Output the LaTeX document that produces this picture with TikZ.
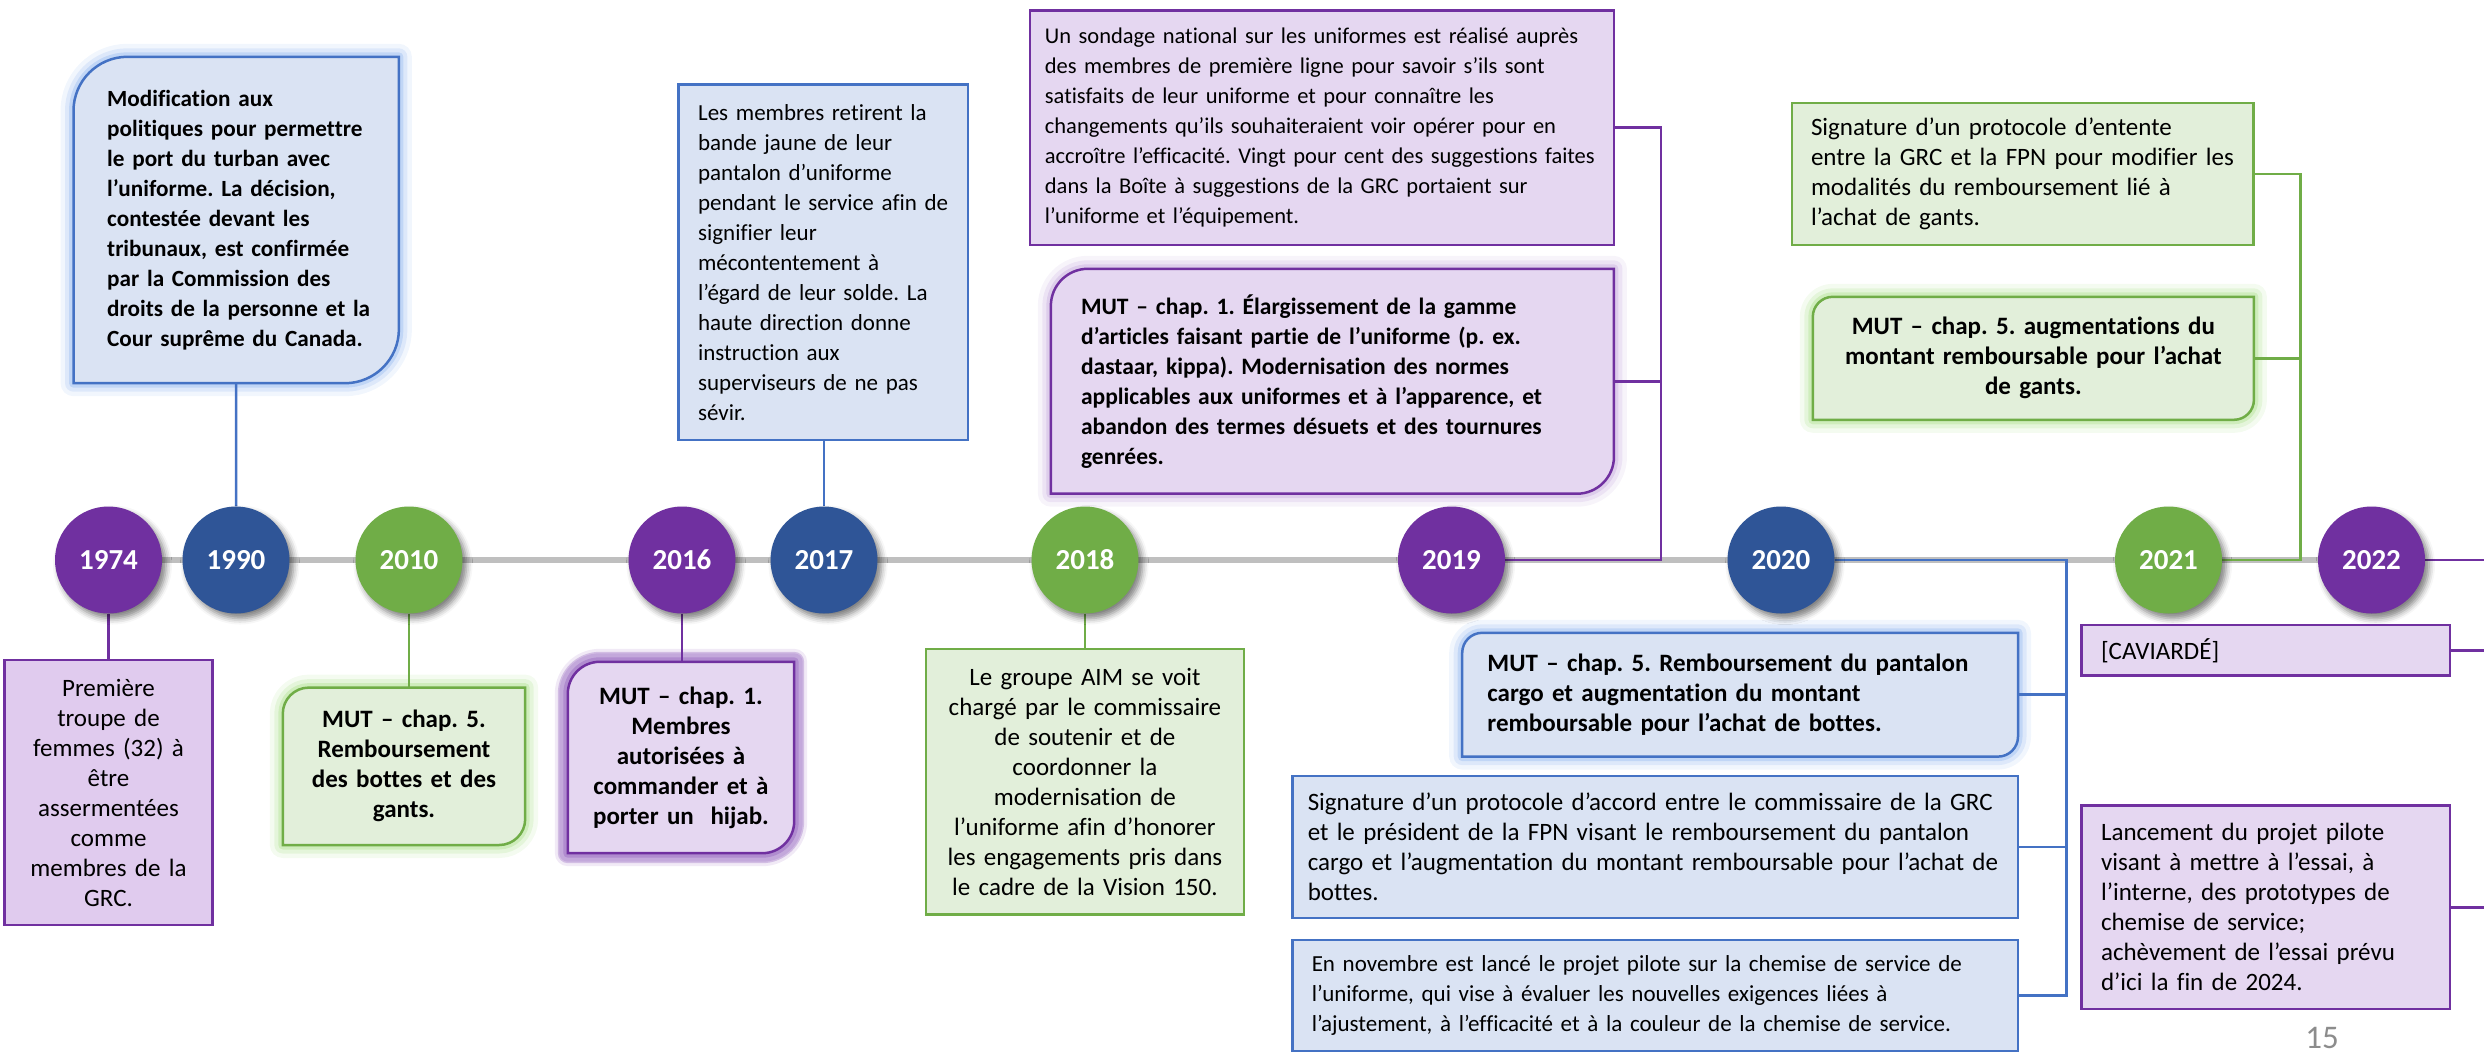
\documentclass[tikz,border=0pt]{standalone}
\usepackage{fontspec}
\setmainfont{Carlito}[Ligatures={TeX,NoCommon}]
\frenchspacing
\usetikzlibrary{calc,backgrounds,shadows.blur}
\definecolor{cPurple}{HTML}{7030A0}
\definecolor{cBlue}{HTML}{2F5597}
\definecolor{cGreen}{HTML}{70AD47}
\definecolor{lBlue}{HTML}{4472C4}
\definecolor{fBlue}{HTML}{DAE3F3}
\definecolor{fPurple}{HTML}{E5D7F1}
\definecolor{fPurpleDark}{HTML}{E0CBEE}
\definecolor{fGreen}{HTML}{E2EFDA}
\definecolor{gBlue}{HTML}{8DB3EE}
\definecolor{gPurple}{HTML}{8A55B8}
\definecolor{gPurpleLight}{HTML}{C0A2DA}
\definecolor{gGreen}{HTML}{A6DE84}
\definecolor{cGray}{HTML}{BFBFBF}
\definecolor{cNum}{HTML}{8C8C8C}
\newcommand\mutframe[3]{\path[#2] (#1.south west) -- ($(#1.north west)+(0pt,-#3)$) arc[start angle=180,end angle=90,radius=#3] -- (#1.north east) -- ($(#1.south east)+(0pt,#3)$) arc[start angle=0,end angle=-90,radius=#3] -- cycle;}
\begin{document}
\begin{tikzpicture}[x=1pt,y=-1pt,
  year/.style={circle, minimum size=107pt, inner sep=0pt, text=white, font=\fontsize{29}{34}\selectfont\bfseries, blur shadow={shadow xshift=4pt, shadow yshift=-5pt, shadow blur radius=6pt, shadow opacity=50}},
  note/.style={inner sep=0pt, line width=2.5pt, font=\fontsize{25}{30}\selectfont},
  noteB/.style={note, draw=lBlue, fill=fBlue},
  noteP/.style={note, draw=cPurple, fill=fPurple},
  noteG/.style={note, draw=cGreen, fill=fGreen},
  mut/.style={inner sep=0pt, font=\fontsize{25}{30}\selectfont\bfseries},
  link/.style={line width=2.5pt},
  frame/.style={line width=2.5pt, draw=#1},
  glow/.style={preaction={draw=#1, line width=26pt, opacity=.12, line join=round}, preaction={draw=#1, line width=17pt, opacity=.2, line join=round}, preaction={draw=#1, line width=9pt, opacity=.35, line join=round}},
  strongglow/.style={glow=#1, preaction={draw=#1, line width=20pt, opacity=.3, line join=round}}]
\useasboundingbox (0,0) rectangle (2484,1053);

\node[year, fill=cPurple] (y1974) at (108.5,560) {1974};
\node[year, fill=cBlue] (y1990) at (236,560) {1990};
\node[year, fill=cGreen] (y2010) at (409,560) {2010};
\node[year, fill=cPurple] (y2016) at (682,560) {2016};
\node[year, fill=cBlue] (y2017) at (824,560) {2017};
\node[year, fill=cGreen] (y2018) at (1085,560) {2018};
\node[year, fill=cPurple] (y2019) at (1451.5,560) {2019};
\node[year, fill=cBlue] (y2020) at (1781,560) {2020};
\node[year, fill=cGreen] (y2021) at (2168.5,560) {2021};
\node[year, fill=cPurple] (y2022) at (2371.5,560) {2022};

\node[noteP, fill=fPurpleDark, align=center, minimum width=208pt, minimum height=265pt, text width=188pt] (b1974) at (108.5,792.5) {Première\\troupe de\\femmes (32) à\\être\\assermentées\\comme\\membres de la\\GRC.};
\node[mut, font=\fontsize{23.2}{30}\selectfont\bfseries, align=left, minimum width=325pt, minimum height=326pt, text width=258pt] (b1990) at (236.2,220) {Modification aux\\politiques pour permettre\\le port du turban avec\\l’uniforme. La décision,\\contestée devant les\\tribunaux, est confirmée\\par la Commission des\\\mbox{droits de la personne et la}\\Cour suprême du Canada.};
\node[mut, align=center, minimum width=242pt, minimum height=157pt, text width=222pt] (b2010) at (404,766.3) {MUT – chap. 5.\\Remboursement\\des bottes et des\\gants.};
\node[mut, align=center, minimum width=226pt, minimum height=191pt, text width=206pt] (b2016) at (681,757.5) {MUT – chap. 1.\\Membres\\autorisées à\\commander et à\\porter un\ \ hijab.};
\node[noteB, font=\fontsize{23}{30}\selectfont, align=left, minimum width=289.4pt, minimum height=355.4pt, text width=250.4pt] (b2017) at (823.3,262.3) {Les membres retirent la\\bande jaune de leur\\pantalon d’uniforme\\pendant le service afin de\\signifier leur\\mécontentement à\\l’égard de leur solde. La\\haute direction donne\\instruction aux\\superviseurs de ne pas\\sévir.};
\node[noteG, align=center, minimum width=318.2pt, minimum height=265.5pt, text width=298pt] (b2018) at (1084.9,781.75) {Le groupe AIM se voit\\chargé par le commissaire\\de soutenir et de\\coordonner la\\modernisation de\\l’uniforme afin d’honorer\\les engagements pris dans\\le cadre de la Vision 150.};
\node[noteP, font=\fontsize{22.5}{30}\selectfont, align=left, minimum width=583.7pt, minimum height=234.2pt, text width=554pt] (b2019a) at (1321.9,127.7) {Un sondage national sur les uniformes est réalisé auprès\\des membres de première ligne pour savoir s’ils sont\\satisfaits de leur uniforme et pour connaître les\\changements qu’ils souhaiteraient voir opérer pour en\\accroître l’efficacité. Vingt pour cent des suggestions faites\\dans la Boîte à suggestions de la GRC portaient sur\\l’uniforme et l’équipement.};
\node[mut, font=\fontsize{23.5}{30}\selectfont\bfseries, align=left, minimum width=562.7pt, minimum height=224.5pt, text width=502.7pt] (b2019b) at (1332.4,381.25) {MUT – chap. 1. Élargissement de la gamme\\d’articles faisant partie de l’uniforme (p. ex.\\dastaar, kippa). Modernisation des normes\\applicables aux uniformes et à l’apparence, et\\abandon des termes désuets et des tournures\\genrées.};
\node[mut, align=left, minimum width=555.4pt, minimum height=123.4pt, text width=505.4pt] (b2020a) at (1740.1,694.7) {MUT – chap. 5. Remboursement du pantalon\\cargo et augmentation du montant\\remboursable pour l’achat de bottes.};
\node[noteB, align=left, minimum width=725.1pt, minimum height=142.2pt, text width=695pt] (b2020b) at (1655.25,846.9) {Signature d’un protocole d’accord entre le commissaire de la GRC\\et le président de la FPN visant le remboursement du pantalon\\cargo et l’augmentation du montant remboursable pour l’achat de\\bottes.};
\node[noteB, font=\fontsize{23}{30}\selectfont, align=left, minimum width=725.1pt, minimum height=111pt, text width=687pt] (b2020c) at (1655.25,995.5) {En novembre est lancé le projet pilote sur la chemise de service de\\l’uniforme, qui vise à évaluer les nouvelles exigences liées à\\l’ajustement, à l’efficacité et à la couleur de la chemise de service.};
\node[noteG, align=left, minimum width=461.7pt, minimum height=142pt, text width=423.7pt] (b2021a) at (2022.85,173.8) {Signature d’un protocole d’entente\\entre la GRC et la FPN pour modifier les\\modalités du remboursement lié à\\l’achat de gants.};
\node[mut, align=center, minimum width=440.7pt, minimum height=122.6pt, text width=420pt] (b2021b) at (2033.35,358.3) {MUT – chap. 5. augmentations du\\montant remboursable pour l’achat\\de gants.};
\node[noteP, align=left, minimum width=368.5pt, minimum height=50.7pt, text width=329.5pt] (b2022a) at (2265.75,650.35) {[CAVIARDÉ]};
\node[noteP, align=left, minimum width=368.5pt, minimum height=203.5pt, text width=329.5pt] (b2022b) at (2265.75,907.25) {Lancement du projet pilote\\visant à mettre à l’essai, à\\l’interne, des prototypes de\\chemise de service;\\achèvement de l’essai prévu\\d’ici la fin de 2024.};
\node[text=cNum, font=\fontsize{33}{36}\selectfont] (page) at (2322,1038) {15};

\begin{scope}[on background layer]
\draw[line width=6pt, cGray] (y1974) -- (y2022);
\mutframe{b1990}{frame=lBlue, fill=fBlue, glow=gBlue}{54pt}
\mutframe{b2010}{frame=cGreen, fill=fGreen, glow=gGreen}{26pt}
\mutframe{b2016}{frame=cPurple, fill=fPurple, strongglow=gPurple}{32pt}
\mutframe{b2019b}{frame=cPurple, fill=fPurple, glow=gPurpleLight}{37pt}
\mutframe{b2020a}{frame=lBlue, fill=fBlue, glow=gBlue}{20pt}
\mutframe{b2021b}{frame=cGreen, fill=fGreen, glow=gGreen}{20pt}
\draw[link, cPurple] (y1974.south) -- (b1974.north);
\draw[link, lBlue] (y1990.north) -- (b1990.south);
\draw[link, cGreen] (y2010.south) -- (y2010.south |- b2010.north);
\draw[link, cPurple] (y2016.south) -- (y2016.south |- b2016.north);
\draw[link, lBlue] (y2017.north) -- (y2017.north |- b2017.south);
\draw[link, cGreen] (y2018.south) -- (y2018.south |- b2018.north);
\coordinate (k2019) at (1661,560);
\draw[link, cPurple] (y2019.east) -- (k2019) |- (b2019a.east);
\draw[link, cPurple] (k2019 |- b2019b.east) -- (b2019b.east);
\coordinate (k2020) at (2066.5,560);
\draw[link, lBlue] (y2020.east) -- (k2020) |- (b2020c.east);
\draw[link, lBlue] (k2020 |- b2020a.east) -- (b2020a.east);
\draw[link, lBlue] (k2020 |- b2020b.east) -- (b2020b.east);
\coordinate (k2021) at (2300.5,560);
\draw[link, cGreen] (y2021.east) -- (k2021) |- (b2021a.east);
\draw[link, cGreen] (k2021 |- b2021b.east) -- (b2021b.east);
\coordinate (k2022) at (2484,560);
\draw[link, cPurple] (y2022.east) -- (k2022);
\draw[link, cPurple] (b2022a.east) -- (b2022a.east -| k2022);
\draw[link, cPurple] (b2022b.east) -- (b2022b.east -| k2022);
\end{scope}
\end{tikzpicture}
\end{document}
